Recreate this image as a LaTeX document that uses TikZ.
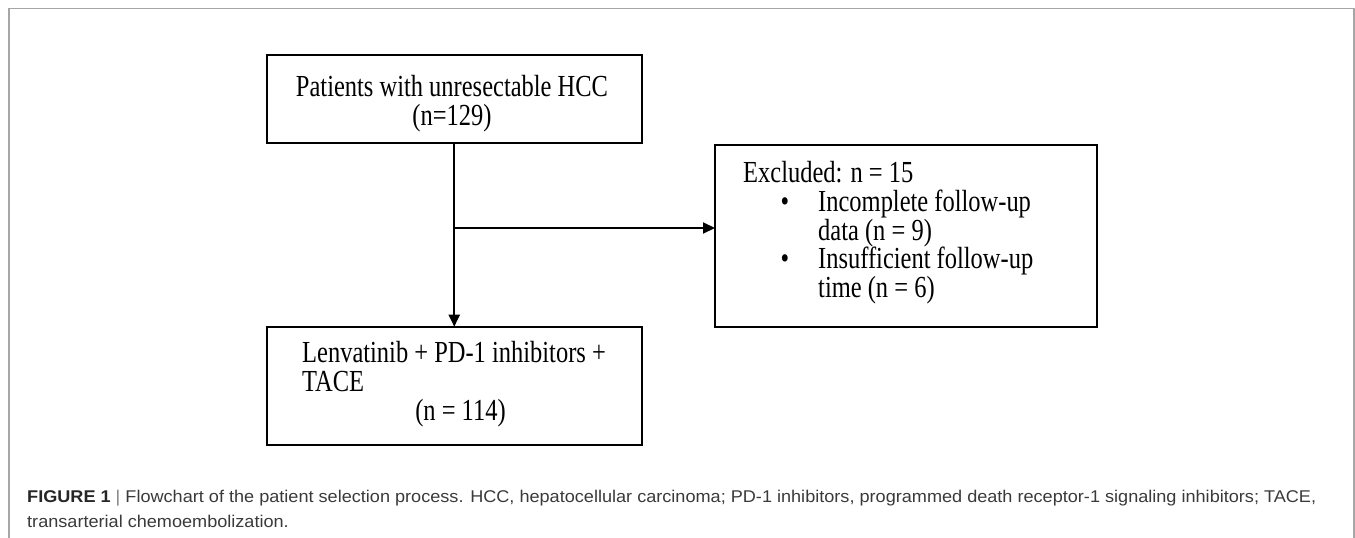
\documentclass[tikz,border=0pt]{standalone}
\usepackage{fontspec}
\setmainfont{Liberation Serif}
\newfontfamily\boxfont[FakeStretch=0.8]{Liberation Serif}
\newfontfamily\capfont[FakeStretch=1.065]{Liberation Sans}
\usetikzlibrary{arrows.meta}
\definecolor{captext}{HTML}{3A3A3A}
\definecolor{framegray}{HTML}{A6A6A6}
\begin{document}
\begin{tikzpicture}[x=1pt,y=-1pt,
  box/.style={draw=black,line width=2pt,anchor=north west,inner sep=0pt,outer sep=0pt},
  txt/.style={font=\boxfont\fontsize{30.6}{36}\selectfont,inner sep=0pt,anchor=base west},
  ctxt/.style={txt,anchor=base},
  conn/.style={line width=2pt,-{Triangle[length=12pt,width=11pt]}},
  captxt/.style={font=\capfont\fontsize{17}{20}\selectfont,text=captext,inner sep=0pt,anchor=base west}]
\useasboundingbox (0,0) rectangle (1355,538);
% outer frame
\draw[framegray,line width=1.5pt] (9,538) -- (9,8.5) -- (1354,8.5) -- (1354,538);
% boxes
\node[box,minimum width=375.5pt,minimum height=88pt] (top) at (266.5,55) {};
\node[box,minimum width=381.5pt,minimum height=182.5pt] (excl) at (715,144.5) {};
\node[box,minimum width=375.5pt,minimum height=118.3pt] (bot) at (266.5,326.7) {};
% texts
\node[ctxt] (t1) at (452,96.5) {Patients with unresectable HCC};
\node[ctxt] (t2) at (452,125.5) {(n=129)};
\node[txt] (e1) at (743,182) {Excluded: n = 15};
\node[ctxt] (b1) at (785,211.5) {•};
\node[txt] (e2) at (818,211.5) {Incomplete follow-up};
\node[txt] (e3) at (818,240) {data (n = 9)};
\node[ctxt] (b2) at (785,268.5) {•};
\node[txt] (e4) at (818,268.5) {Insufficient follow-up};
\node[txt] (e5) at (818,297.5) {time (n = 6)};
\node[txt] (l1) at (302,362.7) {Lenvatinib + PD-1 inhibitors +};
\node[txt] (l2) at (302,391) {TACE};
\node[ctxt] (l3) at (460.5,420) {(n = 114)};
% connectors
\draw[conn] (top.south) -- (bot.north);
\coordinate (j) at (454.5,228);
\draw[conn] (j) -- (j -| excl.west);
% caption
\node[captxt] (c1) at (27,502) {\textbf{\color{black!85}FIGURE 1} {\color{gray}|} Flowchart of the patient selection process. HCC, hepatocellular carcinoma; PD-1 inhibitors, programmed death receptor-1 signaling inhibitors; TACE,};
\node[captxt] (c2) at (27,527) {transarterial chemoembolization.};
\end{tikzpicture}
\end{document}
